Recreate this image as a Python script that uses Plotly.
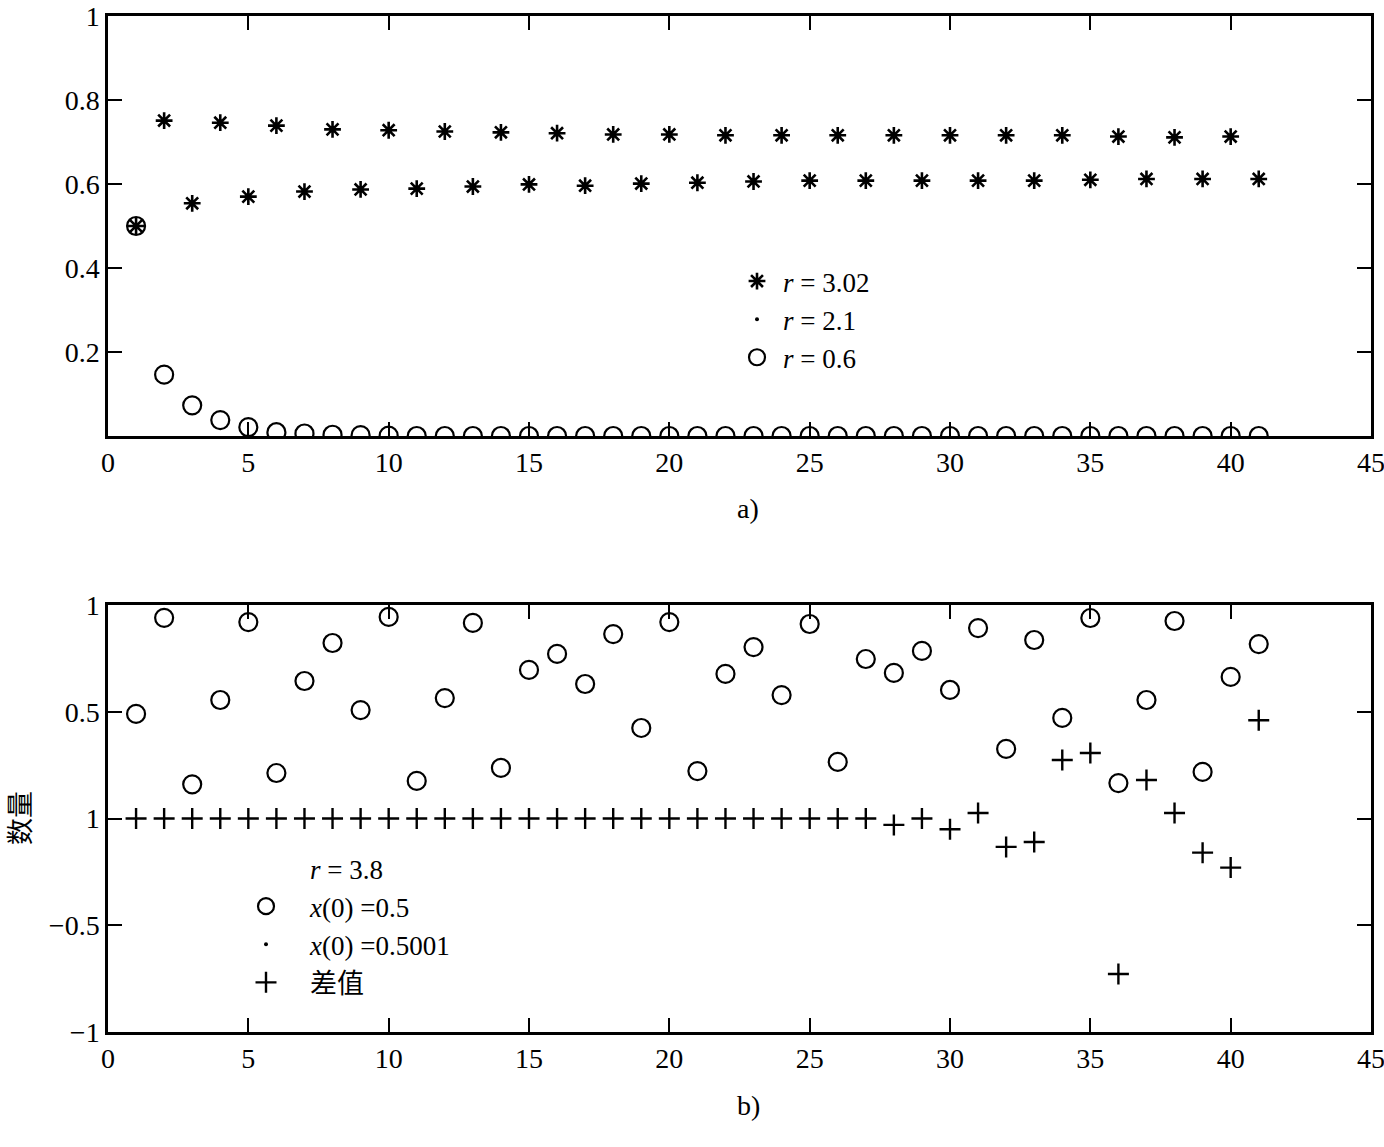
import plotly.graph_objects as go

# ---------------- data ----------------
n_idx = list(range(1, 42))

# panel a) r = 3.02
r302 = [0.500, 0.751, 0.554, 0.746, 0.570, 0.739, 0.582, 0.730, 0.587, 0.728,
        0.589, 0.725, 0.594, 0.723, 0.599, 0.721, 0.596, 0.718, 0.601, 0.718,
        0.603, 0.716, 0.606, 0.716, 0.608, 0.716, 0.608, 0.716, 0.608, 0.716,
        0.608, 0.716, 0.608, 0.716, 0.610, 0.713, 0.612, 0.711, 0.612, 0.713,
        0.612]
# panel a) r = 2.1 (only visible at the start point)
r21_x = [1]
r21 = [0.500]
# panel a) r = 0.6
r06 = [0.500, 0.146, 0.073, 0.038, 0.021, 0.009, 0.006, 0.003, 0.002, 0.001,
       0.0, 0.0, 0.0, 0.0, 0.0, 0.0, 0.0, 0.0, 0.0, 0.0,
       0.0, 0.0, 0.0, 0.0, 0.0, 0.0, 0.0, 0.0, 0.0, 0.0,
       0.0, 0.0, 0.0, 0.0, 0.0, 0.0, 0.0, 0.0, 0.0, 0.0,
       0.0]

# panel b) r = 3.8, x(0)=0.5
x05 = [0.49, 0.94, 0.16, 0.555, 0.92, 0.213, 0.644, 0.822, 0.508, 0.944,
       0.176, 0.564, 0.916, 0.237, 0.696, 0.771, 0.63, 0.864, 0.424, 0.92,
       0.222, 0.677, 0.803, 0.578, 0.911, 0.265, 0.747, 0.682, 0.785, 0.602,
       0.892, 0.326, 0.836, 0.471, 0.939, 0.166, 0.555, 0.925, 0.218, 0.663,
       0.817]
# panel b) difference
diff = [0.0] * 27 + [-0.03, 0.0, -0.05, 0.026, -0.133, -0.11, 0.274, 0.307,
                     -0.728, 0.18, 0.026, -0.16, -0.23, 0.46]

xticks = [0, 5, 10, 15, 20, 25, 30, 35, 40, 45]
ya_ticks = [0.2, 0.4, 0.6, 0.8, 1]
ya_text = ["0.2", "0.4", "0.6", "0.8", "1"]
yb_ticks = [-1, -0.5, 0, 0.5, 1]
yb_text = ["\u22121", "\u22120.5", "1", "0.5", "1"]

# ---------------- figure ----------------
W, H = 1384, 1147
FONT = "Liberation Serif, Times New Roman, Noto Sans CJK SC, serif"


def px(p):
    return p / W


def py(p):
    return 1 - p / H


fig = go.Figure()

fig.add_trace(go.Scatter(x=n_idx, y=r302, mode="markers", name="<i>r</i> = 3.02",
                         marker=dict(symbol="asterisk-open", size=14, color="black",
                                     line=dict(width=2.6, color="black")),
                         xaxis="x", yaxis="y", legend="legend"))
fig.add_trace(go.Scatter(x=r21_x, y=r21, mode="markers", name="<i>r</i> = 2.1",
                         marker=dict(symbol="circle", size=4, color="black"),
                         xaxis="x", yaxis="y", legend="legend"))
fig.add_trace(go.Scatter(x=n_idx, y=r06, mode="markers", name="<i>r</i> = 0.6",
                         marker=dict(symbol="circle-open", size=18, color="black",
                                     line=dict(width=2.2, color="black")),
                         xaxis="x", yaxis="y", legend="legend"))

fig.add_trace(go.Scatter(x=[None], y=[None], mode="markers", name="<i>r</i> = 3.8",
                         marker=dict(symbol="circle", size=4, color="rgba(0,0,0,0)"),
                         xaxis="x2", yaxis="y2", legend="legend2"))
fig.add_trace(go.Scatter(x=n_idx, y=x05, mode="markers", name="<i>x</i>(0) =0.5",
                         marker=dict(symbol="circle-open", size=18, color="black",
                                     line=dict(width=2.2, color="black")),
                         xaxis="x2", yaxis="y2", legend="legend2"))
fig.add_trace(go.Scatter(x=[None], y=[None], mode="markers", name="<i>x</i>(0) =0.5001",
                         marker=dict(symbol="circle", size=4, color="black"),
                         xaxis="x2", yaxis="y2", legend="legend2"))
fig.add_trace(go.Scatter(x=n_idx, y=diff, mode="markers", name="差值",
                         marker=dict(symbol="cross-thin-open", size=15, color="black",
                                     line=dict(width=2.4, color="black")),
                         xaxis="x2", yaxis="y2", legend="legend2"))

axis_common = dict(showline=True, linecolor="black", linewidth=2.5, mirror="ticks",
                   ticks="inside", ticklen=14, tickwidth=2, tickcolor="black",
                   showgrid=False, zeroline=False, automargin=False,
                   ticklabeloverflow="allow",
                   tickfont=dict(family=FONT, size=28, color="black"))

xd = [px(108), px(1371)]
fig.update_layout(
    width=W, height=H,
    margin=dict(l=0, r=0, t=0, b=0, autoexpand=False),
    paper_bgcolor="white", plot_bgcolor="white",
    font=dict(family=FONT, size=27, color="black"),
    xaxis=dict(domain=xd, range=[0, 45], tickvals=xticks, anchor="y", **axis_common),
    yaxis=dict(domain=[py(436), py(16)], range=[0, 1], tickvals=ya_ticks,
               ticktext=ya_text, anchor="x", **axis_common),
    xaxis2=dict(domain=xd, range=[0, 45], tickvals=xticks, anchor="y2", **axis_common),
    yaxis2=dict(domain=[py(1032), py(605)], range=[-1, 1], tickvals=yb_ticks,
                ticktext=yb_text, anchor="x2", **axis_common),
    legend=dict(x=px(731), y=py(257), xanchor="left", yanchor="top",
                bgcolor="rgba(0,0,0,0)", borderwidth=0, itemwidth=42,
                font=dict(family=FONT, size=27, color="black")),
    legend2=dict(x=px(222), y=py(844), xanchor="left", yanchor="top",
                 bgcolor="rgba(0,0,0,0)", borderwidth=0, itemwidth=78,
                 font=dict(family=FONT, size=27, color="black")),
    annotations=[
        dict(text="a)", x=px(748), y=py(508), xref="paper", yref="paper",
             xanchor="center", yanchor="middle",
             showarrow=False, font=dict(family=FONT, size=28)),
        dict(text="b)", x=px(748), y=py(1105), xref="paper", yref="paper",
             xanchor="center", yanchor="middle",
             showarrow=False, font=dict(family=FONT, size=28)),
        dict(text="数量", x=px(18), y=py(818), xref="paper", yref="paper",
             xanchor="center", yanchor="middle",
             textangle=-90, showarrow=False,
             font=dict(family="Noto Sans CJK SC", size=27)),
    ],
)

fig.write_html("out.html",
               config={"displayModeBar": False},
               post_script="document.body.style.margin='0';"
                           "document.body.style.overflow='hidden';")
